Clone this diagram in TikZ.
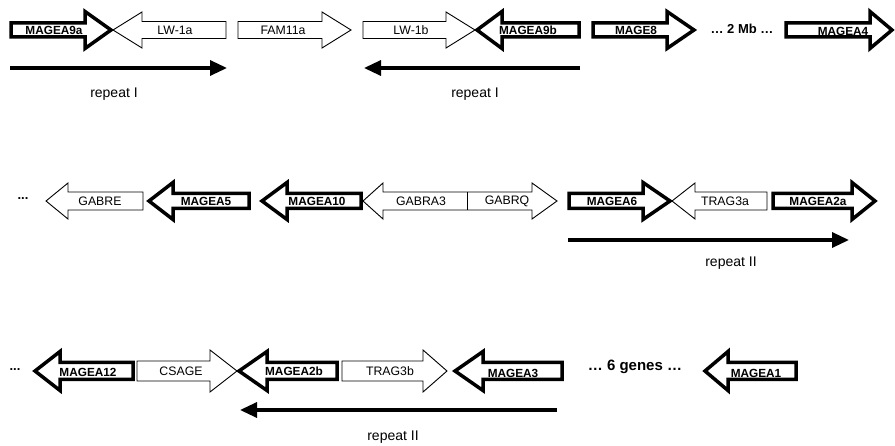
\documentclass[tikz,border=0pt]{standalone}
\usepackage{fontspec}
\setmainfont{Liberation Sans}
\usetikzlibrary{arrows.meta}
\tikzset{
 thickgene/.style={draw=black, line width=3.5pt, fill=white, line join=miter},
 thingene/.style={draw=black, line width=0.9pt, fill=white, line join=miter},
 boldlbl/.style={font=\fontsize{11.8}{12}\selectfont\bfseries, inner sep=0pt},
 thinlbl/.style={font=\fontsize{12.3}{13}\selectfont, inner sep=0pt},
 repeatarrow/.style={line width=3.3pt, -{Triangle[length=17pt,width=15pt]}},
 replbl/.style={font=\fontsize{14}{15}\selectfont, inner sep=0pt},
 gaplbl/.style={font=\fontsize{13}{14}\selectfont\bfseries, inner sep=0pt},
 dotlbl/.style={font=\fontsize{13}{14}\selectfont\bfseries, inner sep=0pt},
}
% #1 style, #2 tail x, #3 head base x, #4 tip x, #5 y centre, #6 body half, #7 head half
\newcommand\genearrow[7]{%
 \draw[#1] (#2,#5-#6) -- (#3,#5-#6) -- (#3,#5-#7) -- (#4,#5) -- (#3,#5+#7) -- (#3,#5+#6) -- (#2,#5+#6) -- cycle;}
\begin{document}
\begin{tikzpicture}[x=1pt,y=-1pt]
\useasboundingbox (0,0) rectangle (895,446);
% ---------------- row 1 ----------------
\genearrow{thingene}{226}{142}{113}{30}{8.5}{18}
\genearrow{thingene}{238}{322}{351}{30}{8.5}{18}
\genearrow{thingene}{363}{446}{475}{30}{8.5}{18}
\genearrow{thickgene}{11}{85}{111}{30}{7}{18.5}
\genearrow{thickgene}{579}{502}{477}{30}{7}{18.5}
\genearrow{thickgene}{593}{667}{694}{30}{7}{18.5}
\genearrow{thickgene}{786}{870}{892}{30}{7}{18.5}
\node[boldlbl] (mageA9a) at (54,30) {MAGEA9a};
\node[thinlbl] (lw1a) at (175,30) {LW-1a};
\node[thinlbl] (fam11a) at (283,30) {FAM11a};
\node[thinlbl] (lw1b) at (411,30) {LW-1b};
\node[boldlbl] (mageA9b) at (528,30) {MAGEA9b};
\node[boldlbl] (mage8) at (636,30) {MAGE8};
\node[gaplbl] (twomb) at (742,29) {… 2 Mb …};
\node[boldlbl] (mageA4) at (843,31) {MAGEA4};
\coordinate (r1as) at (10,68);
\coordinate (r1ae) at (227,68);
\coordinate (r1bs) at (580,68);
\coordinate (r1be) at (364,68);
\draw[repeatarrow] (r1as) -- (r1ae);
\draw[repeatarrow] (r1bs) -- (r1be);
\node[replbl] (rep1a) at (114,94) {repeat I};
\node[replbl] (rep1b) at (475,94) {repeat I};
% ---------------- row 2 ----------------
\node[dotlbl] (dots2) at (23,199) {...};
\genearrow{thingene}{143}{68}{46}{201}{9}{18}
\draw[thingene] (383,192) -- (532,192) -- (532,183) -- (557,201) -- (532,219) -- (532,210) -- (383,210) -- (383,219) -- (363,201) -- (383,183) -- cycle;
\draw[thingene] (467,192) -- (467,210);
\genearrow{thingene}{767}{695}{672}{201}{9}{18}
\genearrow{thickgene}{249}{173}{149}{201}{7.5}{18.5}
\genearrow{thickgene}{361}{287}{262}{201}{7.5}{18.5}
\genearrow{thickgene}{569}{643}{670}{201}{7.5}{18.5}
\genearrow{thickgene}{773}{852}{875}{201}{7.5}{18.5}
\node[thinlbl] (gabre) at (100,201) {GABRE};
\node[boldlbl] (mageA5) at (206,201) {MAGEA5};
\node[boldlbl] (mageA10) at (317,201) {MAGEA10};
\node[thinlbl] (gabra3) at (421,201) {GABRA3};
\node[thinlbl] (gabrq) at (507,201) {GABRQ};
\node[boldlbl] (mageA6) at (612,201) {MAGEA6};
\node[thinlbl] (trag3a) at (725,201) {TRAG3a};
\node[boldlbl] (mageA2a) at (818,201) {MAGEA2a};
\coordinate (r2s) at (568,240);
\coordinate (r2e) at (849,240);
\draw[repeatarrow] (r2s) -- (r2e);
\node[replbl] (rep2) at (731,263) {repeat II};
% ---------------- row 3 ----------------
\node[dotlbl] (dots3) at (15,370) {...};
\genearrow{thingene}{137}{210}{237}{371}{10}{21}
\genearrow{thingene}{342}{423}{447}{371}{10}{21}
\genearrow{thickgene}{133}{60}{35}{371}{8.5}{19.5}
\genearrow{thickgene}{337}{267}{239}{371}{8.5}{19.5}
\genearrow{thickgene}{562}{483}{455}{371}{8.5}{19.5}
\genearrow{thickgene}{796}{728}{705}{371}{8.5}{19.5}
\node[boldlbl] (mageA12) at (88,372) {MAGEA12};
\node[thinlbl] (csage) at (181,371) {CSAGE};
\node[boldlbl] (mageA2b) at (294,371) {MAGEA2b};
\node[thinlbl] (trag3b) at (390,371) {TRAG3b};
\node[boldlbl] (mageA3) at (513,373) {MAGEA3};
\node[gaplbl, font=\fontsize{15}{16}\selectfont\bfseries] (sixgenes) at (635,367) {… 6 genes …};
\node[boldlbl] (mageA1) at (756,373) {MAGEA1};
\coordinate (r3s) at (557,410);
\coordinate (r3e) at (240,410);
\draw[repeatarrow] (r3s) -- (r3e);
\node[replbl] (rep3) at (393,437) {repeat II};
\end{tikzpicture}
\end{document}
